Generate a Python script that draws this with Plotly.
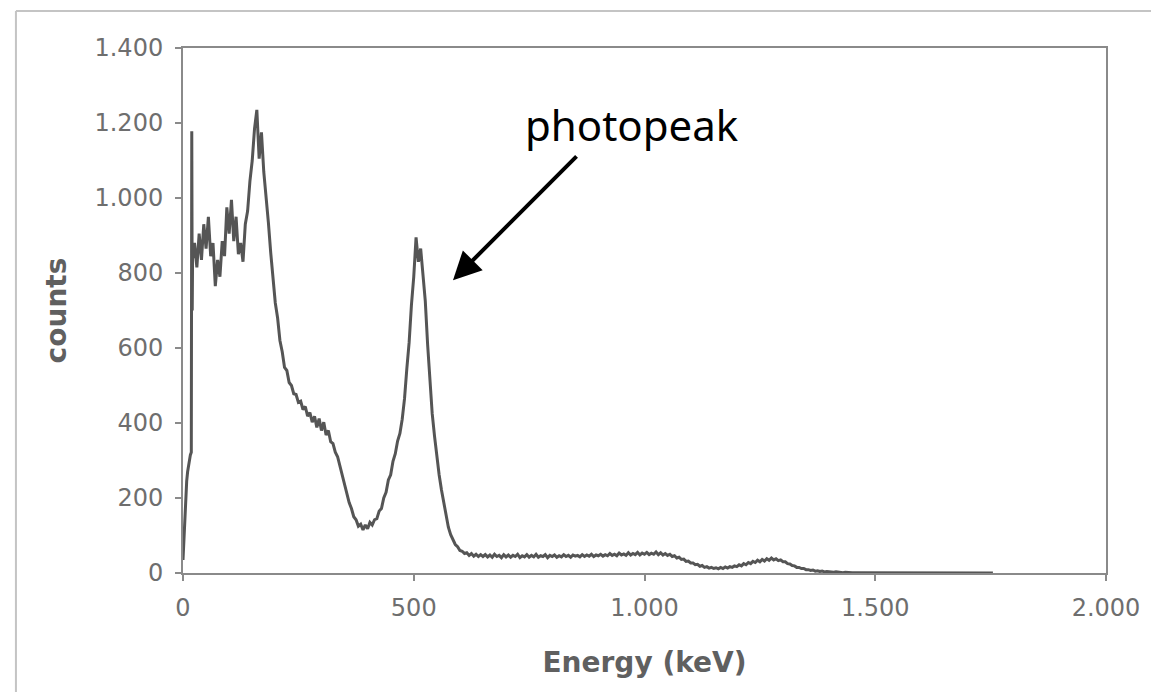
import numpy as np
import plotly.graph_objects as go

# ---- data (energy in keV, counts) ----
energy_lead = [0, 2, 4, 6, 8, 10, 12, 14, 16, 18, 19, 20, 21, 22]
counts_lead = [35, 95, 170, 215, 245, 270, 290, 305, 315, 322, 1178, 700, 880, 840]

# regular 5 keV channel grid from 25 to 1755 keV
energy_grid = np.arange(25, 1760, 5)

counts_backscatter = [  # 25 .. 200
    880, 815, 905, 835, 930, 865, 950, 845, 880, 765,
    835, 790, 885, 845, 975, 905, 995, 885, 950, 850,
    880, 830, 930, 965, 1045, 1100, 1185, 1235, 1105, 1175,
    1070, 1010, 935, 855, 780, 720]
counts_compton = [  # 205 .. 470
    680, 620, 590, 548, 540, 508, 500, 478, 476, 455,
    458, 436, 444, 418, 428, 402, 418, 388, 412, 380,
    402, 368, 380, 350, 345, 322, 310, 285, 268, 238,
    218, 188, 172, 150, 142, 125, 130, 115, 128, 118,
    135, 128, 142, 145, 165, 172, 200, 215, 248, 262,
    298, 318, 352, 372]
counts_photopeak = [  # 475 .. 650
    410, 465, 545, 615, 715, 790, 895, 830, 865, 790,
    725, 610, 505, 425, 365, 305, 262, 222, 188, 150,
    122, 102, 90, 76, 70, 60, 58, 52, 54, 47,
    52, 45, 50, 44, 49, 44]
counts_tail = [  # 655 .. 1755
    49, 43, 48, 42, 50, 44, 47, 41, 49, 43,
    48, 42, 47, 44, 50, 41, 46, 43, 49, 42,
    47, 43, 50, 42, 46, 44, 49, 41, 47, 44,
    48, 42, 46, 43, 49, 44, 47, 42, 48, 45,
    47, 43, 49, 44, 48, 45, 50, 44, 48, 46,
    50, 45, 49, 46, 52, 47, 50, 46, 53, 48,
    51, 47, 54, 48, 52, 49, 55, 48, 53, 50,
    55, 49, 53, 50, 56, 49, 54, 48, 52, 47,
    50, 44, 46, 40, 42, 36, 37, 31, 32, 27,
    27, 22, 23, 18, 20, 15, 17, 13, 15, 12,
    14, 11, 15, 12, 16, 13, 17, 15, 19, 17,
    22, 19, 25, 22, 28, 25, 31, 28, 34, 30,
    36, 32, 38, 34, 40, 35, 38, 33, 35, 30,
    30, 25, 24, 20, 19, 15, 15, 12, 12, 9,
    9, 7, 8, 5, 6, 4, 5, 3, 4, 3,
    3, 2, 3, 2, 2, 1, 2, 1, 2, 1,
    1, 1, 2, 1, 1, 0, 1, 1, 0, 1,
    1, 0, 1, 0, 1, 1, 0, 1, 0, 0,
    1, 0, 0, 1, 0, 0, 1, 0, 0, 0,
    0, 1, 0, 0, 0, 1, 0, 0, 0, 0,
    0, 0, 1, 0, 0, 0, 0, 0, 1, 0,
    0, 0, 0, 0, 1, 0, 0, 0, 0, 0,
    0]

x_tickvals = [0, 500, 1000, 1500, 2000]
x_ticktext = ["0", "500", "1.000", "1.500", "2.000"]
y_tickvals = [0, 200, 400, 600, 800, 1000, 1200, 1400]
y_ticktext = ["0", "200", "400", "600", "800", "1.000", "1.200", "1.400"]

annotation_text = "photopeak"
annotation_text_pos = (973, 1195)
arrow_tail = (856, 1115)
arrow_head = (585, 781)

energy = list(energy_lead) + list(energy_grid)
counts = (counts_lead + counts_backscatter + counts_compton
          + counts_photopeak + counts_tail)

fig = go.Figure()
fig.add_trace(go.Scatter(
    x=energy, y=counts, mode="lines",
    line=dict(color="#555555", width=3),
    showlegend=False, hoverinfo="skip"))

axis_common = dict(
    showline=True, linecolor="#8a8a8a", linewidth=2, mirror=True,
    ticks="outside", ticklen=6, tickwidth=2, tickcolor="#8a8a8a",
    showgrid=False, zeroline=False,
    tickfont=dict(family="DejaVu Sans", size=24, color="#6e6e6e"),
)

fig.update_xaxes(
    range=[0, 2000], tickvals=x_tickvals, ticktext=x_ticktext,
    ticklabelstandoff=6,
    title=dict(text="<b>Energy (keV)</b>", standoff=32,
               font=dict(family="DejaVu Sans", size=28, color="#606060")),
    **axis_common)
fig.update_yaxes(
    range=[0, 1400], tickvals=y_tickvals, ticktext=y_ticktext,
    ticklabelstandoff=7,
    title=dict(text="<b>counts</b>", standoff=20,
               font=dict(family="DejaVu Sans", size=28, color="#606060")),
    **axis_common)

fig.add_annotation(
    x=annotation_text_pos[0], y=annotation_text_pos[1], xref="x", yref="y",
    text=annotation_text, showarrow=False,
    font=dict(family="Noto Sans", size=42, color="#000000"))
fig.add_annotation(
    x=arrow_head[0], y=arrow_head[1], xref="x", yref="y",
    ax=arrow_tail[0], ay=arrow_tail[1], axref="x", ayref="y",
    text="", showarrow=True, arrowhead=2, arrowsize=1.4,
    arrowwidth=4, arrowcolor="#000000")

# outer frame (left and top edges)
fig.add_shape(type="line", xref="paper", yref="paper",
              x0=-0.181, x1=1.06, y0=1.0705, y1=1.0705,
              line=dict(color="#c4c4c4", width=2))
fig.add_shape(type="line", xref="paper", yref="paper",
              x0=-0.181, x1=-0.181, y0=1.0705, y1=-0.25,
              line=dict(color="#c4c4c4", width=2))

fig.update_layout(
    width=1151, height=692,
    margin=dict(l=183, r=45, t=48, b=119),
    paper_bgcolor="white", plot_bgcolor="white",
)

fig.write_html("out.html")
